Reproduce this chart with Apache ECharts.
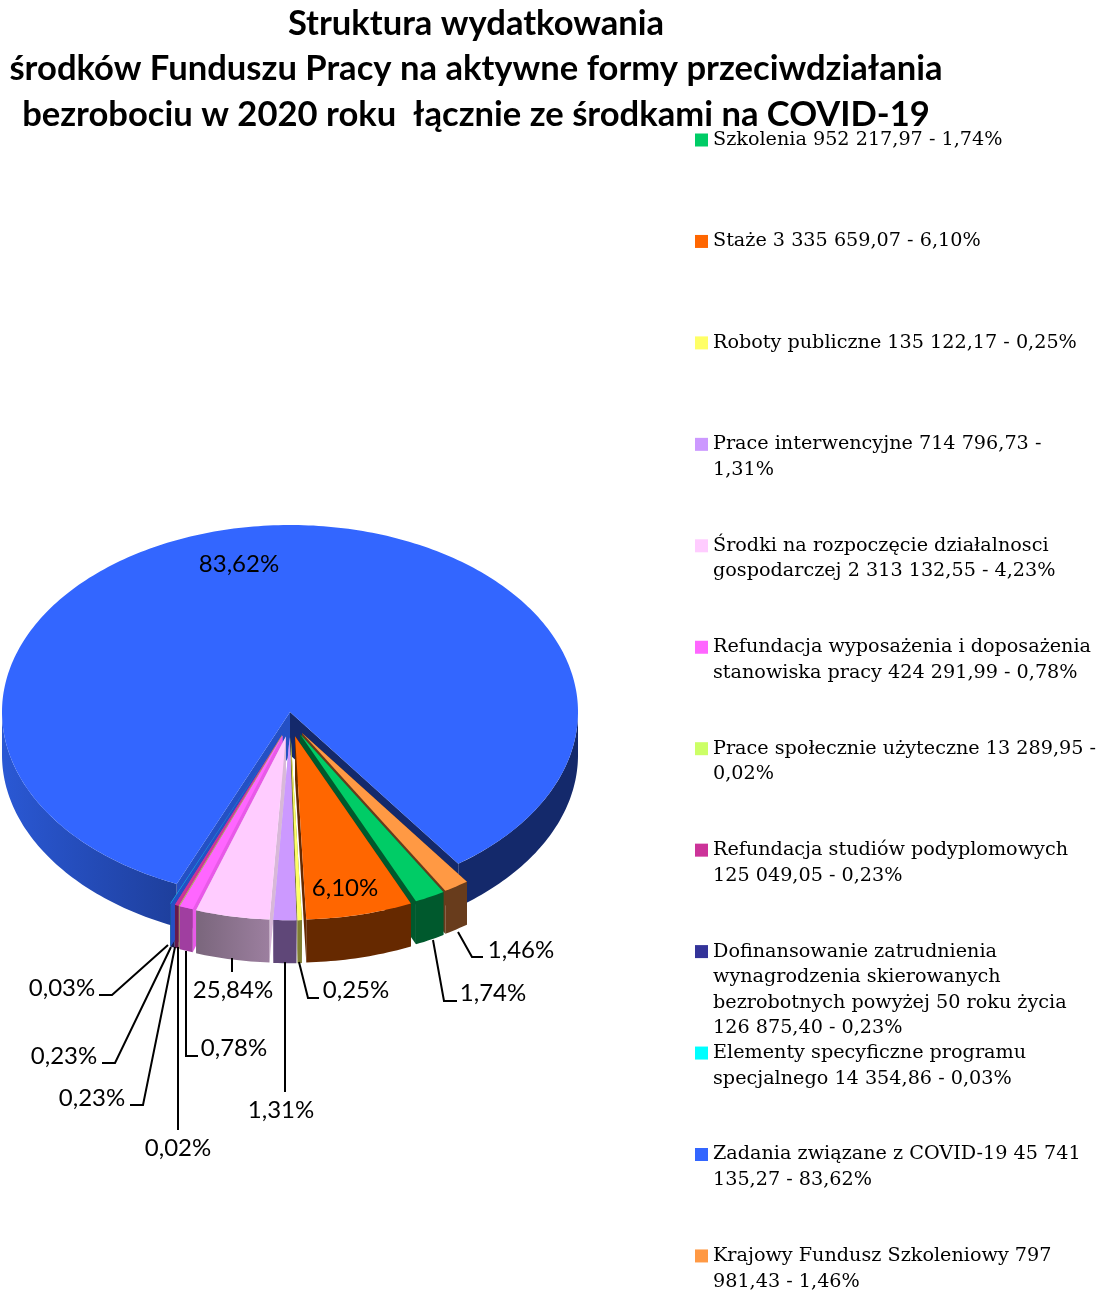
<!DOCTYPE html>
<html>
<head>
<meta charset="utf-8">
<style>
html, body { margin: 0; background: #fff; }
#chart { width: 1100px; height: 1290px; }
</style>
<script src="https://cdn.jsdelivr.net/npm/echarts@6/dist/echarts.min.js"></script>
</head>
<body>
<div id="chart"></div>
<script>
// pie order = legend order, clockwise from the front right
const names = [
  "Szkolenia 952 217,97 - 1,74%",
  "Staże 3 335 659,07 - 6,10%",
  "Roboty publiczne 135 122,17 - 0,25%",
  "Prace interwencyjne 714 796,73 -\n1,31%",
  "Środki na rozpoczęcie działalnosci\ngospodarczej 2 313 132,55 - 4,23%",
  "Refundacja wyposażenia i doposażenia\nstanowiska pracy 424 291,99 - 0,78%",
  "Prace społecznie użyteczne 13 289,95 -\n0,02%",
  "Refundacja studiów podyplomowych\n125 049,05 - 0,23%",
  "Dofinansowanie zatrudnienia\nwynagrodzenia skierowanych\nbezrobotnych powyżej 50 roku życia\n126 875,40 - 0,23%",
  "Elementy specyficzne programu\nspecjalnego 14 354,86 - 0,03%",
  "Zadania związane z COVID-19 45 741\n135,27 - 83,62%",
  "Krajowy Fundusz Szkoleniowy 797\n981,43 - 1,46%",
];
const amounts = [952217.97, 3335659.07, 135122.17, 714796.73, 2313132.55, 424291.99, 13289.95, 125049.05, 126875.4, 14354.86, 45741135.27, 797981.43];
const labels = ["1,74%", "6,10%", "0,25%", "1,31%", "25,84%", "0,78%", "0,02%", "0,23%", "0,23%", "0,03%", "83,62%", "1,46%"];
const topColors = ["#00cc66", "#ff6600", "#ffff66", "#cc99ff", "#ffccff", "#ff66ff", "#ccff66", "#cc3399", "#333399", "#00ffff", "#3366ff", "#ff9944"];
const rimColors = ["#00592d", "#662900", "#7f7f33", "#5f4778", "#8a7088", "#a03ea0", "#667f33", "#661a4d", "#1a1a4d", "#11607f", "#14296b", "#683c1c"];
const wallColors = ["#00592d", "#662900", "#7f7f33", "#c4a8e0", "#d8b8d8", "#e85ae8", "#99aa55", "#cc3399", "#2450c4", "#2450c4", "#14296b", "#683c1c"];

// layout of the label texts and their leader lines (page pixels)
const labelPos = [[493, 993], [345, 888], [356, 990], [281, 1110], [233, 990], [234, 1048], [178, 1148], [92, 1098], [64, 1056], [62, 988], [239, 564], [521, 950]];
const leaders = [
  [[433, 940], [444, 1001], [457, 1001]],
  null,
  [[299, 962], [308, 998], [319, 998]],
  [[285, 962], [285, 1092]],
  [[232, 958], [232, 972]],
  [[186, 951], [186, 1056], [198, 1056]],
  [[178, 947], [178, 1130]],
  [[175, 947], [143, 1105], [130, 1105]],
  [[171, 947], [115, 1063], [102, 1063]],
  [[168, 945], [112, 995], [99, 995]],
  null,
  [[458, 932], [472, 957], [483, 957]],
];

const CX = 290, CY = 712, RX = 288, RY = 187, DEPTH = 43;
const START = 30.5;
const EXPLODE_X = 22, EXPLODE_Y = 25, EXPLODE_R = 0.98;
const BLUE = 10; // the only slice that stays in place
const PINK = 4;
const LINE = 25.6;
const rowY = names.map((n, i) => 140 + i * 101.45);

const total = amounts.reduce((a, b) => a + b, 0);
// angle measured from the front of the pie, growing to the right
let acc = 0;
const arcFrom = [], arcTo = [];
amounts.forEach((v) => {
  arcFrom.push(START - (acc / total) * 360);
  acc += v;
  arcTo.push(START - (acc / total) * 360);
});

function pt(cx, cy, deg, k) {
  const a = (deg * Math.PI) / 180;
  return [cx + k * RX * Math.sin(a), cy + k * RY * Math.cos(a)];
}
function arc(cx, cy, a, b, k) {
  const out = [];
  const n = Math.max(2, Math.ceil(Math.abs(b - a)));
  for (let j = 0; j <= n; j++) out.push(pt(cx, cy, a + ((b - a) * j) / n, k));
  return out;
}
function down(points) {
  return points.map((p) => [p[0], p[1] + DEPTH]).reverse();
}
function poly(points, fill) {
  return { type: "polygon", shape: { points: points }, style: { fill: fill }, silent: true };
}
function hGrad(c0, c1) {
  return new echarts.graphic.LinearGradient(0, 0, 1, 0, [
    { offset: 0, color: c0 },
    { offset: 1, color: c1 },
  ]);
}
// distance of a slice from the front, whichever way round it was reached
function frontDist(i) {
  const mid = (arcFrom[i] + arcTo[i]) / 2;
  return Math.abs(((mid + 540) % 360) - 180);
}

function drawSlice(i, params, api) {
  const a = arcFrom[i];
  const b = a - (api.value(0) / total) * 360;
  const kids = [];
  if (i === BLUE) {
    // notch walls first, then the two visible parts of the rim
    const apex = [CX, CY];
    const apexLow = [CX, CY + DEPTH];
    const pa = pt(CX, CY, a, 1);
    const pb = pt(CX, CY, b, 1);
    kids.push(poly([apex, pa, [pa[0], pa[1] + DEPTH], apexLow], "#2450c4"));
    kids.push(poly([apex, pb, [pb[0], pb[1] + DEPTH], apexLow], "#14296b"));
    const left = arc(CX, CY, -90, a, 1);
    const right = arc(CX, CY, b + 360, 90, 1);
    kids.push(poly(left.concat(down(left)), hGrad("#2a58d4", "#1e3f9c")));
    kids.push(poly(right.concat(down(right)), "#14296b"));
    kids.push(poly([apex].concat(arc(CX, CY, a, b, 1)), topColors[i]));
  } else {
    const mid = (((a + b) / 2) * Math.PI) / 180;
    const ox = CX + EXPLODE_X * Math.sin(mid);
    const oy = CY + EXPLODE_Y * Math.cos(mid);
    const apex = [ox, oy];
    const apexLow = [ox, oy + DEPTH];
    [a, b].forEach((e) => {
      const p = pt(ox, oy, e, EXPLODE_R);
      kids.push(poly([apex, p, [p[0], p[1] + DEPTH], apexLow], wallColors[i]));
    });
    const edge = arc(ox, oy, a, b, EXPLODE_R);
    kids.push(poly(edge.concat(down(edge)), i === PINK ? hGrad("#7a667c", "#9c7f9f") : rimColors[i]));
    kids.push(poly([apex].concat(edge), topColors[i]));
  }
  return { type: "group", children: kids };
}

function drawNotes(params, api) {
  const kids = [];
  labels.forEach((text, i) => {
    if (leaders[i]) {
      kids.push({
        type: "polyline",
        shape: { points: leaders[i] },
        style: { fill: "none", stroke: "#000", lineWidth: 2 },
        silent: true,
      });
    }
    kids.push({
      type: "text",
      x: labelPos[i][0],
      y: labelPos[i][1],
      silent: true,
      style: { text: text, fill: "#000", font: '24px Lato, sans-serif', textAlign: "center", textVerticalAlign: "middle" },
    });
  });
  return { type: "group", children: kids };
}

const series = names.map((name, i) => ({
  type: "custom",
  name: name,
  coordinateSystem: "none",
  // back slices first: the nearer to the front, the later it paints
  z: i === BLUE ? 1 : 200 - Math.round(frontDist(i)),
  itemStyle: { color: topColors[i] },
  data: [[amounts[i]]],
  renderItem: (params, api) => drawSlice(i, params, api),
}));
series.push({
  type: "custom",
  coordinateSystem: "none",
  z: 300,
  data: [[0]],
  renderItem: drawNotes,
});

// one legend per row, rows keep a fixed pitch whatever their line count.
// empty lines on top so the first real line sits level with the swatch
const legends = names.map((name, i) => {
  const lines = name.split("\n").length;
  return {
    data: [name],
    left: 695,
    top: rowY[i] - ((2 * lines - 1) * LINE) / 2,
    icon: "rect",
    itemWidth: 13,
    itemHeight: 13,
    itemGap: 0,
    padding: 0,
    selectedMode: false,
    formatter: (n) => "\n".repeat(lines - 1) + n,
    textStyle: {
      fontFamily: "DejaVu Serif",
      fontSize: 19.2,
      lineHeight: LINE,
      color: "#000",
    },
  };
});

const chart = echarts.init(document.getElementById("chart"));
chart.setOption({
  animation: false,
  backgroundColor: "#fff",
  title: {
    text: "Struktura wydatkowania\nśrodków Funduszu Pracy na aktywne formy przeciwdziałania\nbezrobociu w 2020 roku  łącznie ze środkami na COVID-19",
    left: 471,
    top: -4,
    textAlign: "center",
    textStyle: { fontFamily: "Lato", fontWeight: "bold", fontSize: 34.6, lineHeight: 45.5, color: "#000" },
  },
  legend: legends,
  series: series,
});
</script>
</body>
</html>
